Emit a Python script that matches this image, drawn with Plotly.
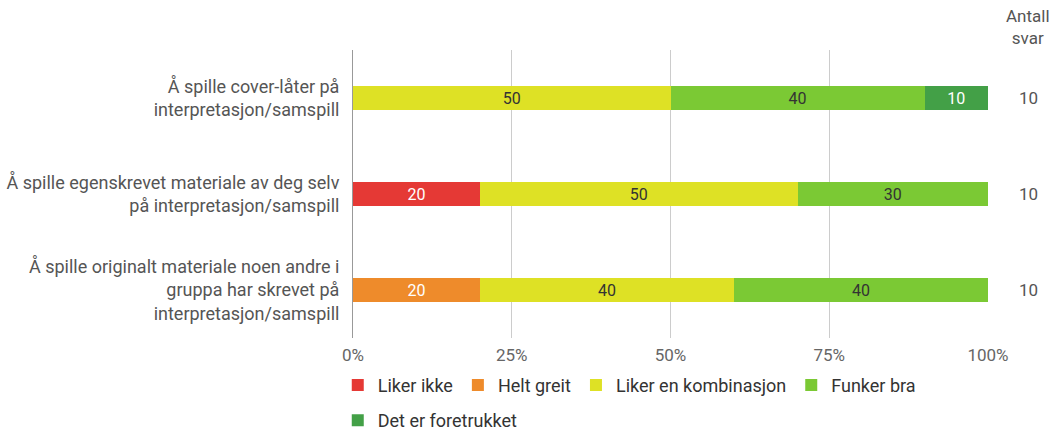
import plotly.graph_objs as go

# 回答項目（上から順）
questions = [
    "Å spille cover-låter på<br>interpretasjon/samspill",
    "Å spille egenskrevet materiale av deg selv<br>på interpretasjon/samspill",
    "Å spille originalt materiale noen andre i<br>gruppa har skrevet på<br>interpretasjon/samspill",
]
answers = ["Liker ikke", "Helt greit", "Liker en kombinasjon", "Funker bra", "Det er foretrukket"]
colors = ["#E53935", "#EE8B2B", "#DEE125", "#7BC934", "#43A047"]
text_colors = ["white", "white", "#333333", "#333333", "white"]

# 割合（%）: 行 = 回答カテゴリ, 列 = 質問
shares = [
    [0, 20, 0],
    [0, 0, 20],
    [50, 50, 40],
    [40, 30, 40],
    [10, 0, 0],
]
n_answers = [10, 10, 10]
x_ticks = [0, 25, 50, 75, 100]

fig = go.Figure()

for i, name in enumerate(answers):
    vals = shares[i]
    fig.add_trace(
        go.Bar(
            y=questions,
            x=vals,
            name=name,
            orientation="h",
            width=0.25,
            marker=dict(color=colors[i], line=dict(width=0)),
            text=[str(v) if v else "" for v in vals],
            textposition="inside",
            textangle=0,
            insidetextanchor="middle",
            constraintext="none",
            textfont=dict(color=text_colors[i], size=16, family="Roboto"),
            legend="legend2" if i == 4 else "legend",
        )
    )

fig.update_layout(
    barmode="stack",
    width=1055,
    height=430,
    margin=dict(l=353, r=67, t=50, b=92, autoexpand=False),
    plot_bgcolor="white",
    paper_bgcolor="white",
    font=dict(family="Roboto", size=16, color="#444444"),
    legend=dict(
        orientation="h",
        x=-0.024, xanchor="left",
        y=-0.1, yanchor="top",
        font=dict(size=18, color="#333333"),
        itemwidth=30,
        traceorder="normal",
    ),
    legend2=dict(
        orientation="h",
        x=-0.024, xanchor="left",
        y=-0.222, yanchor="top",
        font=dict(size=18, color="#333333"),
        itemwidth=30,
    ),
)

fig.update_xaxes(
    range=[0, 100],
    tickvals=x_ticks,
    ticktext=[f"{t}%" for t in x_ticks],
    showgrid=True,
    gridcolor="#CCCCCC",
    gridwidth=1,
    zeroline=False,
    ticklabelstandoff=5,
    tickfont=dict(size=17, color="#666666"),
    fixedrange=True,
)
fig.update_yaxes(
    autorange="reversed",
    showline=True,
    linecolor="#999999",
    linewidth=1,
    ticks="",
    ticklabelstandoff=9,
    tickfont=dict(size=18, color="#555555"),
)

# 右側の回答数
fig.add_annotation(
    x=1.063, y=1.0, xref="paper", yref="paper",
    text="Antall<br>svar", showarrow=False,
    xanchor="center", yanchor="bottom",
    font=dict(size=17, color="#555555"),
)
for q, n in zip(questions, n_answers):
    fig.add_annotation(
        x=1.063, y=q, xref="paper", yref="y",
        text=str(n), showarrow=False,
        xanchor="center",
        font=dict(size=17, color="#555555"),
    )

fig.write_html(
    "out.html",
    config={"displayModeBar": False},
    post_script="document.body.style.margin='0';",
)
